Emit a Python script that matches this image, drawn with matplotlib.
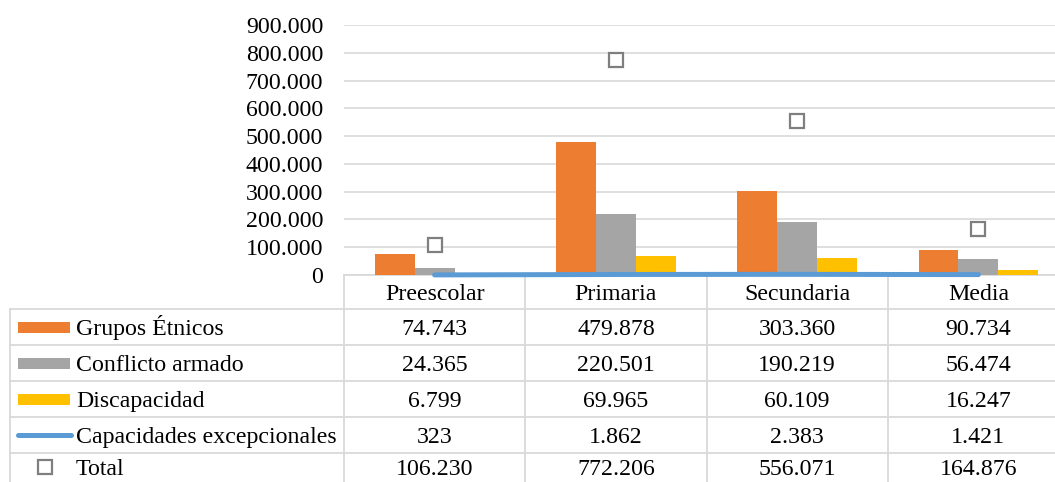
import numpy as np
import matplotlib.pyplot as plt
from matplotlib.transforms import blended_transform_factory
from matplotlib.patches import Rectangle

# datos
categorias = ['Preescolar', 'Primaria', 'Secundaria', 'Media']
grupos_etnicos = [74743, 479878, 303360, 90734]
conflicto_armado = [24365, 220501, 190219, 56474]
discapacidad = [6799, 69965, 60109, 16247]
capacidades = [323, 1862, 2383, 1421]
total = [106230, 772206, 556071, 164876]
nombres = ['Grupos Étnicos', 'Conflicto armado', 'Discapacidad',
           'Capacidades excepcionales', 'Total']


def miles(v):
    return f'{int(v):,}'.replace(',', '.')


plt.rcParams['font.family'] = ['Liberation Serif', 'DejaVu Serif']
plt.rcParams['font.size'] = 17.2

W, H = 1055, 482
fig = plt.figure(figsize=(W / 100, H / 100), dpi=100)

# zona del grafico
ax = fig.add_axes([344 / W, (H - 275) / H, 725 / W, 250 / H], zorder=2)
ax.patch.set_visible(False)
x = np.arange(len(categorias))
w = 0.22
ax.bar(x - w, grupos_etnicos, w, color='#ed7d31')
ax.bar(x, conflicto_armado, w, color='#a5a5a5')
ax.bar(x + w, discapacidad, w, color='#ffc000')
ax.plot(x, capacidades, color='#5b9bd5', lw=3.6, solid_capstyle='round',
        zorder=4, clip_on=False)
ax.plot(x, total, ls='none', marker='s', ms=10, mfc='white', mec='#7f7f7f',
        mew=1.6, zorder=5)
ax.set_xlim(-0.5, 3.5)
ax.set_ylim(0, 900000)
ax.set_yticks(np.arange(0, 900001, 100000))
ax.yaxis.set_major_formatter(lambda v, p: miles(v))
ax.tick_params(axis='y', length=0, pad=15)
ax.set_xticks([])
ax.grid(axis='y', color='#d9d9d9', lw=1.2)
ax.set_axisbelow(True)
for s in ax.spines.values():
    s.set_visible(False)

# tabla de datos (coordenadas en pixeles)
tab = fig.add_axes([0, 0, 1, 1], zorder=1)
tab.set_xlim(0, W)
tab.set_ylim(H, 0)
tab.axis('off')
bt = blended_transform_factory(ax.transData, tab.transData)
gris = '#d9d9d9'

tab.plot([344, W], [275, 275], color=gris, lw=1.3)
for yy in [309, 345, 381, 417, 453]:
    tab.plot([10, W], [yy, yy], color=gris, lw=1.3)
tab.plot([10, 10], [309, H], color=gris, lw=1.3)
for i in range(len(categorias) + 1):
    tab.plot([i - 0.5, i - 0.5], [275, H], color=gris, lw=1.3, transform=bt)

for i, c in enumerate(categorias):
    tab.text(i, 300, c, transform=bt, ha='center', va='baseline')

filas = [grupos_etnicos, conflicto_armado, discapacidad, capacidades, total]
centros = [327, 363, 399, 435, 467]
colores = ['#ed7d31', '#a5a5a5', '#ffc000']
for k, (fila, yc) in enumerate(zip(filas, centros)):
    tab.text(76, yc + 8, nombres[k], ha='left', va='baseline')
    for i, v in enumerate(fila):
        tab.text(i, yc + 8, miles(v), transform=bt, ha='center', va='baseline')
    if k < 3:
        tab.add_patch(Rectangle((18, yc - 5.5), 52, 11, color=colores[k], lw=0))
    elif k == 3:
        tab.plot([18, 71], [yc, yc], color='#5b9bd5', lw=3.6,
                 solid_capstyle='round')
    else:
        tab.plot([45], [yc], marker='s', ms=10, mfc='white', mec='#7f7f7f',
                 mew=1.6)

fig.savefig('out.png', dpi=100)
